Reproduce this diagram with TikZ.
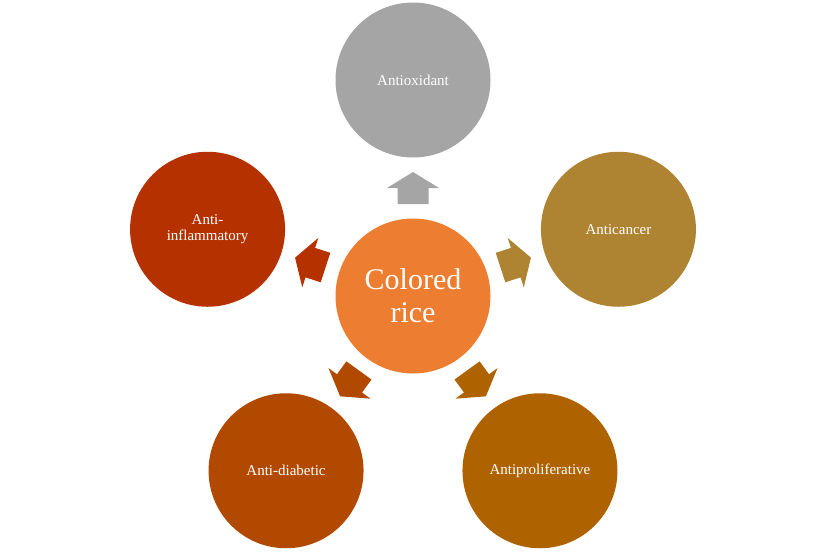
\documentclass[tikz,border=0pt]{standalone}
\usepackage{fontspec}
\setmainfont{Liberation Serif}
\usetikzlibrary{calc}
\begin{document}
\begin{tikzpicture}[x=1pt,y=1pt,
  circ/.style={circle,minimum size=155pt,inner sep=0pt,text=white,align=center,font=\fontsize{15}{16}\selectfont}]
\useasboundingbox (0,0) rectangle (826,-552);
\definecolor{cC}{HTML}{ED7D31}
\definecolor{cT}{HTML}{A5A5A5}
\definecolor{cR}{HTML}{AE8332}
\definecolor{cBR}{HTML}{AE6300}
\definecolor{cBL}{HTML}{B24900}
\definecolor{cL}{HTML}{B53200}
\coordinate (o) at (413,-296);
\node[circ,fill=cC,font=\fontsize{30}{33}\selectfont] (c) at (o) {Colored\\rice};
\node[circ,fill=cT] (t) at ($(o)+(90:216)$) {Antioxidant};
\node[circ,fill=cR] (r) at ($(o)+(18:216)$) {Anticancer};
\node[circ,fill=cBR] (br) at ($(o)+(-54:216)$) {Antiproliferative};
\node[circ,fill=cBL] (bl) at ($(o)+(-126:216)$) {Anti-diabetic};
\node[circ,fill=cL] (l) at ($(o)+(162:216)$) {Anti-\\inflammatory};
\foreach \a/\col in {90/cT,18/cR,-54/cBR,-126/cBL,162/cL}{
  \fill[\col,shift={(o)},rotate=\a-90]
    (-15.5,92) -- (15.5,92) -- (15.5,108) -- (26,108) -- (0,124) -- (-26,108) -- (-15.5,108) -- cycle;
}
\end{tikzpicture}
\end{document}
